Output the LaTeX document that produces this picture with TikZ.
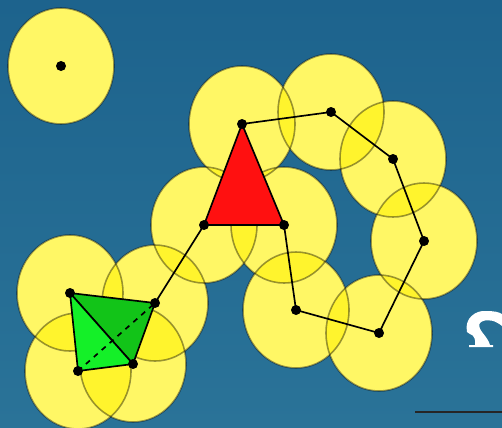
\documentclass[tikz,border=0pt]{standalone}
\usetikzlibrary{calc}
\definecolor{nentren}{HTML}{1D638D}
\definecolor{nenduoi}{HTML}{2A7398}
\definecolor{vangnhat}{HTML}{FFFFE0}
\definecolor{xanhdam}{HTML}{12C418}
\definecolor{xanhsang}{HTML}{14F028}
\definecolor{do}{HTML}{FF1010}

\begin{document}
\begin{tikzpicture}[x=0.02cm, y=-0.02cm,
    sphere/.style={fill=yellow, fill opacity=0.55},
    rim/.style={draw=black, draw opacity=0.4, line width=0.9pt},
    bond/.style={line width=0.95pt}]
    \useasboundingbox (0,0) rectangle (502,427);
    % Nền
    \shade[top color=nentren, bottom color=nenduoi] (0,0) rectangle (502,427);

    % Các tâm
    \coordinate (P) at (61,66);
    \coordinate (A) at (242,124);
    \coordinate (B) at (331,112);
    \coordinate (C) at (393,159);
    \coordinate (D) at (424,241);
    \coordinate (E) at (379,333);
    \coordinate (F) at (296,310);
    \coordinate (G) at (284,225);
    \coordinate (H) at (204,225);
    \coordinate (I) at (155,303);
    \coordinate (J) at (70,293);
    \coordinate (K) at (78,371);
    \coordinate (L) at (133,364);

    % Các quả cầu vàng
    \fill[vangnhat] (P) circle[x radius=53, y radius=58]
        \foreach \p in {A,B,C,D,E,F,G,H,I,J,K,L} {(\p) circle[x radius=53, y radius=58]};
    \foreach \p in {P,A,B,C,D,E,F,G,H,I,J,K,L}
        \fill[sphere] (\p) circle[x radius=53, y radius=58];
    \foreach \p in {P,A,B,C,D,E,F,G,H,I,J,K,L}
        \draw[rim] (\p) circle[x radius=53, y radius=58];

    % Chuỗi liên kết
    \draw[bond] (A) -- (B) -- (C) -- (D) -- (E) -- (F) -- (G);
    \draw[bond] (H) -- (I);

    % Tam giác đỏ
    \filldraw[bond, fill=do] (A) -- (G) -- (H) -- cycle;

    % Tứ diện xanh
    \filldraw[bond, fill=xanhdam] (J) -- (I) -- (L) -- cycle;
    \filldraw[bond, fill=xanhsang] (J) -- (L) -- (K) -- cycle;
    \draw[bond, dashed] (K) -- (I);

    % Các điểm
    \foreach \p in {P,A,B,C,D,E,F,G,H,I,J,K,L}
        \fill (\p) circle (5);

    % Ký hiệu trắng bên phải
    \fill[white] (467,332) .. controls (464,318) and (476,310) .. (486,311)
        .. controls (494,311) and (499,312) .. (502,314) -- (502,326)
        .. controls (496,321) and (488,318) .. (481,322)
        .. controls (478,324) and (479,328) .. (482,332)
        .. controls (486,337) and (489,341) .. (490,345) -- (493,345)
        -- (493,347) -- (469,347) -- (469,345) -- (475,345)
        .. controls (476,340) and (474,335) .. (470,334) -- cycle;

    % Vạch dưới
    \coordinate (V1) at (415,412);
    \coordinate (V2) at (502,412);
    \draw[line width=1.3pt, black!85] (V1) -- (V2);
\end{tikzpicture}
\end{document}
